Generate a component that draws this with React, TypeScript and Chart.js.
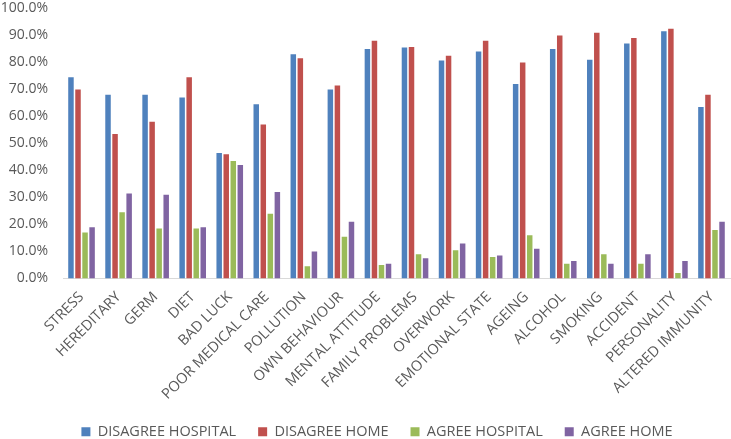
import React, { useEffect, useRef } from "react";
import { Chart, registerables } from "chart.js";

Chart.register(...registerables);

const categories = [
  "STRESS", "HEREDITARY", "GERM", "DIET", "BAD LUCK", "POOR MEDICAL CARE",
  "POLLUTION", "OWN BEHAVIOUR", "MENTAL ATTITUDE", "FAMILY PROBLEMS", "OVERWORK",
  "EMOTIONAL STATE", "AGEING", "ALCOHOL", "SMOKING", "ACCIDENT", "PERSONALITY",
  "ALTERED IMMUNITY",
];

const disagreeHospital = [74.5, 68, 68, 67, 46.5, 64.5, 83, 70, 85, 85.5, 80.7, 84, 72, 85, 81, 87, 91.5, 63.5];
const disagreeHome = [70, 53.5, 58, 74.5, 46, 57, 81.5, 71.5, 88, 85.7, 82.5, 88, 80, 90, 91, 89, 92.5, 68];
const agreeHospital = [17, 24.5, 18.5, 18.5, 43.5, 24, 4.5, 15.5, 5, 9, 10.5, 8, 16, 5.5, 9, 5.5, 2, 18];
const agreeHome = [19, 31.5, 31, 19, 42, 32, 10, 21, 5.5, 7.5, 13, 8.5, 11, 6.5, 5.5, 9, 6.5, 21];

const seriesNames = ["DISAGREE HOSPITAL", "DISAGREE HOME", "AGREE HOSPITAL", "AGREE HOME"];
const seriesColors = ["#4F81BD", "#C0504D", "#9BBB59", "#8064A2"];

const shiftLegend = {
  id: "shiftLegend",
  afterLayout(chart: any) {
    if (chart.legend) {
      chart.legend.left += 12;
      chart.legend.right += 12;
    }
  },
};

export default function App() {
  const ref = useRef<HTMLCanvasElement>(null);
  useEffect(() => {
    document.body.style.margin = "0";
    const values = [disagreeHospital, disagreeHome, agreeHospital, agreeHome];
    const fam = "'Open Sans', sans-serif";
    const font = { family: fam, size: 14.5 };
    const chart = new Chart(ref.current!, {
      type: "bar",
      data: {
        labels: categories,
        datasets: values.map((v, i) => ({
          label: seriesNames[i],
          data: v,
          backgroundColor: seriesColors[i],
          borderWidth: 0,
          categoryPercentage: 0.76,
          barPercentage: 0.78,
        })),
      },
      plugins: [shiftLegend],
      options: {
        animation: false,
        responsive: false,
        maintainAspectRatio: false,
        layout: { padding: { top: 0, right: 1, bottom: -10, left: 0 } },
        plugins: {
          tooltip: { enabled: false },
          legend: {
            position: "bottom",
            labels: {
              boxWidth: 9,
              boxHeight: 9,
              padding: 22,
              color: "#595959",
              font,
            },
          },
        },
        scales: {
          x: {
            grid: { display: false },
            border: { display: true, color: "#D9D9D9", width: 1 },
            ticks: {
              color: "#595959",
              font,
              minRotation: 45,
              maxRotation: 45,
              autoSkip: false,
              padding: 2,
            },
            afterFit: (s: any) => {
              s.height = 124;
            },
          },
          y: {
            min: 0,
            max: 100,
            grid: { display: false, tickLength: 15 },
            border: { display: false },
            ticks: {
              stepSize: 10,
              color: "#595959",
              font: { family: fam, size: 14 },
              padding: 0,
              callback: (v: any) => Number(v).toFixed(1) + "%",
            },
            afterFit: (s: any) => {
              s.width = 63;
            },
          },
        },
      },
    });
    return () => chart.destroy();
  }, []);
  return (
    <div style={{ width: 731, height: 439 }}>
      <canvas ref={ref} width={731} height={439} style={{ width: 731, height: 439 }} />
    </div>
  );
}
